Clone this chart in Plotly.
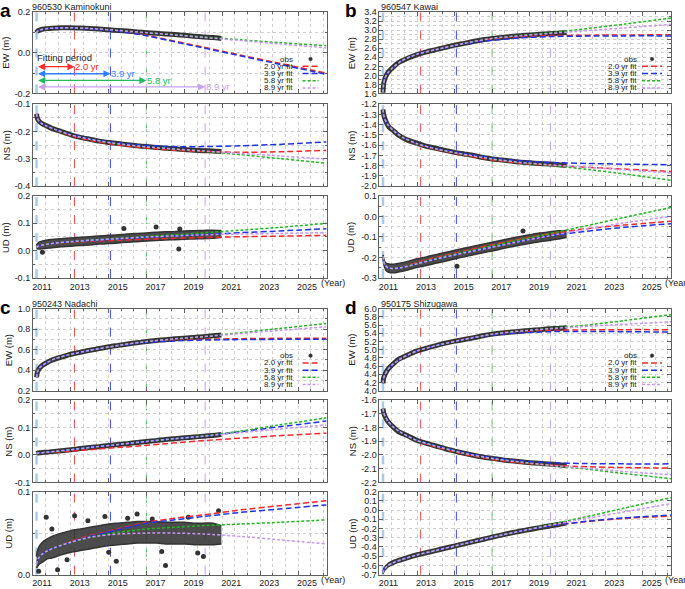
import plotly.graph_objects as go

W, H = 685, 589

# ---------------- data ----------------
quake_t = 2011.19
fit_ends = [2013.19, 2015.09, 2016.99, 2020.09]
fit_labels = ["2.0 yr fit", "3.9 yr fit", "5.8 yr fit", "8.9 yr fit"]
period_labels = ["2.0 yr", "3.9 yr", "5.8 yr", "8.9 yr"]
year_ticks = [2011, 2013, 2015, 2017, 2019, 2021, 2023, 2025]
stations = ["960530 Kaminokuni", "960547 Kawai", "950243 Nadachi", "950175 Shizugawa"]
letters = ["a", "b", "c", "d"]
components = ["EW", "NS", "UD"]

obs_t = [2011.19, 2011.22, 2011.27, 2011.35, 2011.5, 2011.75, 2012.0, 2012.5, 2013.0, 2013.5,
         2014.0, 2014.5, 2015.0, 2015.5, 2016.0, 2016.5, 2017.0, 2017.5, 2018.0, 2018.5,
         2019.0, 2019.5, 2020.0, 2020.5, 2020.95]
fit_t = [2011.19, 2011.22, 2011.3, 2011.45, 2011.7, 2012.2, 2013.0, 2014.0, 2015.5, 2017.0,
         2018.5, 2020.0, 2022.0, 2024.0, 2026.5]

# ---- a: 960530 Kaminokuni ----
a_ew_obs = [0.100, 0.105, 0.109, 0.112, 0.116, 0.119, 0.121, 0.123, 0.123, 0.122, 0.120, 0.117, 0.113,
            0.110, 0.107, 0.103, 0.099, 0.096, 0.093, 0.090, 0.086, 0.082, 0.078, 0.075, 0.071]
a_ew_fit20 = [0.098, 0.104, 0.110, 0.115, 0.119, 0.122, 0.123, 0.119, 0.107, 0.086, 0.057, 0.028, -0.012, -0.051, -0.100]
a_ew_fit39 = [0.098, 0.104, 0.110, 0.115, 0.119, 0.122, 0.122, 0.118, 0.106, 0.084, 0.054, 0.024, -0.016, -0.056, -0.106]
a_ew_fit58 = [0.098, 0.104, 0.110, 0.115, 0.119, 0.122, 0.123, 0.120, 0.110, 0.099, 0.089, 0.078, 0.064, 0.050, 0.035]
a_ew_fit89 = [0.098, 0.104, 0.110, 0.115, 0.119, 0.122, 0.123, 0.120, 0.110, 0.099, 0.088, 0.076, 0.060, 0.044, 0.024]

a_ns_obs = [-0.135, -0.148, -0.157, -0.164, -0.172, -0.180, -0.188, -0.200, -0.212, -0.221, -0.228, -0.235, -0.240,
            -0.244, -0.248, -0.252, -0.255, -0.258, -0.261, -0.263, -0.266, -0.268, -0.270, -0.271, -0.273]
a_ns_fit20 = [-0.135, -0.148, -0.160, -0.170, -0.179, -0.194, -0.215, -0.232, -0.249, -0.260, -0.268, -0.273, -0.276, -0.274, -0.269]
a_ns_fit39 = [-0.135, -0.148, -0.160, -0.170, -0.179, -0.193, -0.211, -0.227, -0.242, -0.251, -0.255, -0.255, -0.252, -0.247, -0.238]
a_ns_fit58 = [-0.135, -0.148, -0.160, -0.170, -0.179, -0.193, -0.212, -0.228, -0.245, -0.256, -0.264, -0.272, -0.285, -0.299, -0.316]
a_ns_fit89 = [-0.135, -0.148, -0.160, -0.170, -0.179, -0.193, -0.212, -0.228, -0.245, -0.256, -0.264, -0.271, -0.280, -0.289, -0.301]

a_ud_obs = [0.012, 0.015, 0.017, 0.019, 0.021, 0.024, 0.026, 0.029, 0.031, 0.034, 0.036, 0.039, 0.041,
            0.043, 0.046, 0.048, 0.050, 0.052, 0.054, 0.055, 0.057, 0.058, 0.059, 0.060, 0.061]
a_ud_spread = [0.006, 0.009, 0.011, 0.013, 0.014, 0.015, 0.015, 0.015, 0.015, 0.015, 0.015, 0.015, 0.015,
               0.015, 0.015, 0.015, 0.015, 0.015, 0.015, 0.015, 0.015, 0.015, 0.015, 0.015, 0.013]
a_ud_out_t = [2011.5, 2015.8, 2017.5, 2018.7, 2018.75]
a_ud_out_v = [-0.006, 0.081, 0.087, 0.006, 0.079]
a_ud_fit20 = [0.012, 0.014, 0.017, 0.020, 0.023, 0.027, 0.031, 0.034, 0.038, 0.042, 0.045, 0.048, 0.051, 0.053, 0.056]
a_ud_fit39 = [0.012, 0.014, 0.017, 0.020, 0.023, 0.028, 0.033, 0.037, 0.043, 0.049, 0.054, 0.059, 0.066, 0.072, 0.080]
a_ud_fit58 = [0.012, 0.014, 0.017, 0.020, 0.023, 0.028, 0.033, 0.038, 0.045, 0.052, 0.058, 0.065, 0.075, 0.085, 0.100]
a_ud_fit89 = [0.012, 0.014, 0.017, 0.020, 0.023, 0.028, 0.033, 0.038, 0.044, 0.050, 0.054, 0.058, 0.061, 0.063, 0.066]

# ---- b: 960547 Kawai ----
b_ew_obs = [1.62, 1.80, 1.90, 1.99, 2.09, 2.19, 2.28, 2.38, 2.46, 2.52, 2.57, 2.62, 2.67,
            2.71, 2.75, 2.79, 2.82, 2.84, 2.86, 2.88, 2.895, 2.91, 2.92, 2.935, 2.95]
b_ew_fit20 = [1.62, 1.80, 1.95, 2.06, 2.17, 2.33, 2.47, 2.58, 2.71, 2.80, 2.85, 2.88, 2.89, 2.895, 2.90]
b_ew_fit39 = [1.62, 1.80, 1.95, 2.06, 2.17, 2.33, 2.47, 2.57, 2.70, 2.78, 2.83, 2.86, 2.87, 2.875, 2.875]
b_ew_fit58 = [1.62, 1.80, 1.95, 2.06, 2.17, 2.33, 2.47, 2.57, 2.71, 2.82, 2.885, 2.94, 3.035, 3.135, 3.27]
b_ew_fit89 = [1.62, 1.80, 1.95, 2.06, 2.17, 2.33, 2.47, 2.57, 2.71, 2.82, 2.88, 2.925, 2.99, 3.05, 3.13]

b_ns_obs = [-1.25, -1.30, -1.33, -1.37, -1.42, -1.46, -1.50, -1.55, -1.58, -1.61, -1.63, -1.65, -1.67,
            -1.685, -1.70, -1.72, -1.735, -1.745, -1.755, -1.765, -1.772, -1.778, -1.784, -1.79, -1.797]
b_ns_fit20 = [-1.25, -1.30, -1.35, -1.40, -1.45, -1.52, -1.59, -1.64, -1.695, -1.745, -1.775, -1.795, -1.815, -1.833, -1.856]
b_ns_fit39 = [-1.25, -1.30, -1.35, -1.40, -1.45, -1.52, -1.585, -1.63, -1.68, -1.725, -1.752, -1.768, -1.778, -1.785, -1.79]
b_ns_fit58 = [-1.25, -1.30, -1.35, -1.40, -1.45, -1.52, -1.585, -1.635, -1.69, -1.735, -1.77, -1.795, -1.835, -1.88, -1.943]
b_ns_fit89 = [-1.25, -1.30, -1.35, -1.40, -1.45, -1.52, -1.585, -1.635, -1.69, -1.735, -1.768, -1.79, -1.815, -1.84, -1.87]

b_ud_obs = [-0.195, -0.215, -0.232, -0.245, -0.252, -0.254, -0.250, -0.240, -0.227, -0.218, -0.207, -0.197, -0.186,
            -0.176, -0.166, -0.156, -0.147, -0.137, -0.127, -0.118, -0.110, -0.102, -0.096, -0.090, -0.085]
b_ud_spread = [0.008, 0.012, 0.015, 0.018, 0.020, 0.021, 0.021, 0.021, 0.021, 0.021, 0.021, 0.021, 0.021,
               0.021, 0.021, 0.021, 0.021, 0.021, 0.021, 0.021, 0.021, 0.021, 0.021, 0.020, 0.017]
b_ud_out_t = [2015.12, 2018.63]
b_ud_out_v = [-0.243, -0.071]
b_ud_fit20 = [-0.195, -0.215, -0.238, -0.250, -0.254, -0.246, -0.224, -0.200, -0.168, -0.138, -0.110, -0.085, -0.060, -0.042, -0.023]
b_ud_fit39 = [-0.195, -0.215, -0.238, -0.250, -0.254, -0.248, -0.230, -0.207, -0.177, -0.148, -0.120, -0.095, -0.072, -0.053, -0.035]
b_ud_fit58 = [-0.195, -0.215, -0.238, -0.250, -0.254, -0.248, -0.229, -0.205, -0.173, -0.143, -0.113, -0.085, -0.045, -0.005, 0.044]
b_ud_fit89 = [-0.195, -0.215, -0.238, -0.250, -0.254, -0.249, -0.231, -0.208, -0.178, -0.150, -0.121, -0.095, -0.062, -0.031, 0.000]

# ---- c: 950243 Nadachi ----
c_ew_obs = [0.33, 0.37, 0.395, 0.42, 0.448, 0.475, 0.498, 0.528, 0.556, 0.575, 0.594, 0.611, 0.628,
            0.642, 0.656, 0.668, 0.68, 0.69, 0.698, 0.706, 0.713, 0.72, 0.727, 0.736, 0.744]
c_ew_fit20 = [0.33, 0.37, 0.41, 0.44, 0.47, 0.515, 0.555, 0.594, 0.640, 0.676, 0.692, 0.702, 0.708, 0.711, 0.712]
c_ew_fit39 = [0.33, 0.37, 0.41, 0.44, 0.47, 0.515, 0.555, 0.594, 0.638, 0.672, 0.686, 0.694, 0.699, 0.701, 0.702]
c_ew_fit58 = [0.33, 0.37, 0.41, 0.44, 0.47, 0.515, 0.555, 0.594, 0.642, 0.680, 0.706, 0.728, 0.767, 0.807, 0.856]
c_ew_fit89 = [0.33, 0.37, 0.41, 0.44, 0.47, 0.515, 0.555, 0.594, 0.642, 0.680, 0.706, 0.727, 0.758, 0.788, 0.824]

c_ns_obs = [0.005, 0.006, 0.007, 0.008, 0.009, 0.010, 0.012, 0.015, 0.019, 0.023, 0.027, 0.030, 0.034,
            0.038, 0.041, 0.045, 0.049, 0.052, 0.056, 0.059, 0.062, 0.065, 0.068, 0.071, 0.074]
c_ns_fit20 = [0.005, 0.006, 0.007, 0.008, 0.009, 0.011, 0.014, 0.019, 0.027, 0.035, 0.044, 0.052, 0.061, 0.070, 0.079]
c_ns_fit39 = [0.005, 0.006, 0.007, 0.008, 0.010, 0.013, 0.019, 0.027, 0.038, 0.049, 0.059, 0.068, 0.085, 0.102, 0.123]
c_ns_fit58 = [0.005, 0.006, 0.007, 0.008, 0.010, 0.013, 0.019, 0.027, 0.038, 0.049, 0.059, 0.069, 0.087, 0.109, 0.135]
c_ns_fit89 = [0.005, 0.006, 0.007, 0.008, 0.010, 0.013, 0.019, 0.027, 0.038, 0.049, 0.059, 0.068, 0.081, 0.094, 0.109]

c_ud_obs = [0.015, 0.018, 0.021, 0.024, 0.027, 0.031, 0.033, 0.037, 0.040, 0.042, 0.044, 0.046, 0.048,
            0.049, 0.050, 0.051, 0.051, 0.051, 0.050, 0.050, 0.050, 0.049, 0.049, 0.049, 0.048]
c_ud_spread = [0.007, 0.009, 0.010, 0.011, 0.012, 0.012, 0.013, 0.013, 0.013, 0.013, 0.013, 0.013, 0.013,
               0.013, 0.013, 0.013, 0.013, 0.013, 0.013, 0.013, 0.013, 0.013, 0.013, 0.013, 0.011]
c_ud_out_t = [2011.3, 2011.7, 2012.3, 2013.2, 2014.8, 2015.4, 2016.5, 2018.0, 2020.0, 2020.8,
              2012.0, 2013.9, 2016.0, 2017.3, 2019.2, 2012.8, 2015.0, 2017.8, 2019.7]
c_ud_out_v = [0.004, 0.069, 0.006, 0.071, 0.070, 0.016, 0.073, 0.011, 0.022, 0.077,
              0.055, 0.065, 0.068, 0.067, 0.069, 0.018, 0.027, 0.028, 0.026]
c_ud_fit20 = [0.013, 0.016, 0.020, 0.024, 0.028, 0.033, 0.040, 0.047, 0.055, 0.063, 0.068, 0.072, 0.078, 0.083, 0.089]
c_ud_fit39 = [0.013, 0.016, 0.020, 0.024, 0.028, 0.033, 0.039, 0.046, 0.054, 0.062, 0.066, 0.070, 0.075, 0.079, 0.084]
c_ud_fit58 = [0.013, 0.016, 0.020, 0.024, 0.028, 0.033, 0.039, 0.045, 0.051, 0.055, 0.057, 0.059, 0.061, 0.063, 0.066]
c_ud_fit89 = [0.013, 0.016, 0.020, 0.024, 0.028, 0.033, 0.039, 0.045, 0.049, 0.050, 0.050, 0.049, 0.046, 0.042, 0.037]

# ---- d: 950175 Shizugawa ----
d_ew_obs = [4.18, 4.30, 4.37, 4.45, 4.55, 4.66, 4.76, 4.87, 4.97, 5.04, 5.10, 5.16, 5.21,
            5.25, 5.29, 5.34, 5.38, 5.41, 5.43, 5.45, 5.47, 5.49, 5.51, 5.52, 5.535]
d_ew_fit20 = [4.18, 4.30, 4.40, 4.52, 4.64, 4.80, 4.97, 5.10, 5.26, 5.37, 5.43, 5.47, 5.485, 5.49, 5.49]
d_ew_fit39 = [4.18, 4.30, 4.40, 4.52, 4.64, 4.80, 4.97, 5.10, 5.25, 5.36, 5.41, 5.44, 5.445, 5.44, 5.43]
d_ew_fit58 = [4.18, 4.30, 4.40, 4.52, 4.64, 4.80, 4.97, 5.10, 5.25, 5.38, 5.455, 5.515, 5.60, 5.71, 5.856]
d_ew_fit89 = [4.18, 4.30, 4.40, 4.52, 4.64, 4.80, 4.97, 5.10, 5.25, 5.38, 5.455, 5.51, 5.57, 5.62, 5.68]

d_ns_obs = [-1.663, -1.69, -1.71, -1.735, -1.765, -1.80, -1.83, -1.86, -1.895, -1.915, -1.935, -1.955, -1.972,
            -1.988, -2.002, -2.015, -2.025, -2.035, -2.043, -2.05, -2.056, -2.061, -2.066, -2.071, -2.077]
d_ns_fit20 = [-1.663, -1.69, -1.72, -1.755, -1.793, -1.842, -1.898, -1.942, -1.995, -2.033, -2.058, -2.073, -2.086, -2.092, -2.096]
d_ns_fit39 = [-1.663, -1.69, -1.72, -1.755, -1.793, -1.842, -1.893, -1.933, -1.983, -2.020, -2.043, -2.056, -2.063, -2.065, -2.065]
d_ns_fit58 = [-1.663, -1.69, -1.72, -1.755, -1.793, -1.842, -1.895, -1.936, -1.988, -2.026, -2.052, -2.075, -2.103, -2.135, -2.173]
d_ns_fit89 = [-1.663, -1.69, -1.72, -1.755, -1.793, -1.842, -1.895, -1.936, -1.988, -2.026, -2.052, -2.074, -2.097, -2.12, -2.144]

d_ud_obs = [-0.683, -0.66, -0.64, -0.62, -0.592, -0.567, -0.547, -0.515, -0.486, -0.462, -0.438, -0.413, -0.389,
            -0.365, -0.341, -0.317, -0.293, -0.27, -0.248, -0.228, -0.21, -0.192, -0.174, -0.158, -0.142]
d_ud_spread = [0.010, 0.014, 0.016, 0.018, 0.019, 0.020, 0.020, 0.020, 0.020, 0.020, 0.020, 0.020, 0.020,
               0.020, 0.020, 0.020, 0.020, 0.020, 0.020, 0.020, 0.020, 0.020, 0.020, 0.020, 0.018]
d_ud_fit20 = [-0.683, -0.66, -0.632, -0.602, -0.572, -0.535, -0.486, -0.438, -0.365, -0.293, -0.228, -0.172, -0.125, -0.090, -0.065]
d_ud_fit39 = [-0.683, -0.66, -0.632, -0.602, -0.572, -0.535, -0.486, -0.438, -0.365, -0.293, -0.228, -0.175, -0.122, -0.085, -0.054]
d_ud_fit58 = [-0.683, -0.66, -0.632, -0.602, -0.572, -0.535, -0.486, -0.438, -0.365, -0.293, -0.228, -0.160, -0.072, 0.020, 0.136]
d_ud_fit89 = [-0.683, -0.66, -0.632, -0.602, -0.572, -0.535, -0.486, -0.438, -0.365, -0.293, -0.228, -0.168, -0.090, -0.020, 0.070]

# ---------------- styles / layout ----------------
OBS_C = "#333333"
BAND_C = "rgba(45,45,45,0.85)"
FIT_C = ["#f02a2a", "#1f33e0", "#1fb81f", "#c596f2"]
FIT_DASH = ["6px,3px", "6px,3px", "3px,2px", "3px,2px"]
VL_C = ["#e84a4a", "#3a4ee6", "#4cc04c", "#c9a0f0"]
ARROW_C = ["#ff2a2a", "#2f80ff", "#22bb60", "#c8a0f0"]
QUAKE_C = "#a9cbe9"
GRID_C = "#cfcfcf"
AX_C = "#606060"
TXT_C = "#222222"
FONT = "Liberation Sans, Arial, sans-serif"

XDOM = {"L": (32, 326), "R": (379, 671)}
YDOM = {"top": [(7.3, 90.0), (101.0, 184.3), (194.3, 277.7)],
        "bot": [(309.0, 392.3), (401.7, 485.7), (495.0, 579.5)]}
panel_side = ["L", "R", "L", "R"]
panel_row = ["top", "top", "bot", "bot"]

subplots = [
    dict(panel=0, comp=0, obs=a_ew_obs, fits=[a_ew_fit20, a_ew_fit39, a_ew_fit58, a_ew_fit89], rng=(-0.2, 0.2), dtick=0.2, minor=0.1),
    dict(panel=0, comp=1, obs=a_ns_obs, fits=[a_ns_fit20, a_ns_fit39, a_ns_fit58, a_ns_fit89], rng=(-0.4, -0.1), dtick=0.1, minor=0.05),
    dict(panel=0, comp=2, obs=a_ud_obs, spread=a_ud_spread, out_t=a_ud_out_t, out_v=a_ud_out_v,
         fits=[a_ud_fit20, a_ud_fit39, a_ud_fit58, a_ud_fit89], rng=(-0.1, 0.2), dtick=0.1, minor=0.05),
    dict(panel=1, comp=0, obs=b_ew_obs, fits=[b_ew_fit20, b_ew_fit39, b_ew_fit58, b_ew_fit89], rng=(1.6, 3.4), dtick=0.2, minor=0.1),
    dict(panel=1, comp=1, obs=b_ns_obs, fits=[b_ns_fit20, b_ns_fit39, b_ns_fit58, b_ns_fit89], rng=(-2.0, -1.2), dtick=0.1, minor=None),
    dict(panel=1, comp=2, obs=b_ud_obs, spread=b_ud_spread, out_t=b_ud_out_t, out_v=b_ud_out_v,
         fits=[b_ud_fit20, b_ud_fit39, b_ud_fit58, b_ud_fit89], rng=(-0.3, 0.1), dtick=0.1, minor=0.05),
    dict(panel=2, comp=0, obs=c_ew_obs, fits=[c_ew_fit20, c_ew_fit39, c_ew_fit58, c_ew_fit89], rng=(0.2, 1.0), dtick=0.2, minor=0.1),
    dict(panel=2, comp=1, obs=c_ns_obs, fits=[c_ns_fit20, c_ns_fit39, c_ns_fit58, c_ns_fit89], rng=(-0.1, 0.2), dtick=0.1, minor=0.05),
    dict(panel=2, comp=2, obs=c_ud_obs, spread=c_ud_spread, out_t=c_ud_out_t, out_v=c_ud_out_v,
         fits=[c_ud_fit20, c_ud_fit39, c_ud_fit58, c_ud_fit89], rng=(0.0, 0.1), dtick=0.1, minor=0.05),
    dict(panel=3, comp=0, obs=d_ew_obs, fits=[d_ew_fit20, d_ew_fit39, d_ew_fit58, d_ew_fit89], rng=(4.0, 6.0), dtick=0.2, minor=None),
    dict(panel=3, comp=1, obs=d_ns_obs, fits=[d_ns_fit20, d_ns_fit39, d_ns_fit58, d_ns_fit89], rng=(-2.2, -1.6), dtick=0.1, minor=None),
    dict(panel=3, comp=2, obs=d_ud_obs, spread=d_ud_spread, fits=[d_ud_fit20, d_ud_fit39, d_ud_fit58, d_ud_fit89],
         rng=(-0.7, 0.2), dtick=0.1, minor=None),
]


def px_x(x):
    return x / W


def px_y(y):
    return 1 - y / H


fig = go.Figure()
shapes, annotations = [], []
layout_axes = {}

for k, sp in enumerate(subplots, start=1):
    p, c = sp["panel"], sp["comp"]
    x0, x1 = XDOM[panel_side[p]]
    ytop, ybot = YDOM[panel_row[p]][c]
    xa = "x" if k == 1 else f"x{k}"
    ya = "y" if k == 1 else f"y{k}"
    common = dict(xaxis=xa, yaxis=ya, showlegend=False, hoverinfo="skip")

    # observations
    if "spread" in sp:
        hi = [o + s for o, s in zip(sp["obs"], sp["spread"])]
        lo = [o - s for o, s in zip(sp["obs"], sp["spread"])]
        fig.add_trace(go.Scatter(x=obs_t, y=hi, mode="lines",
                                 line=dict(color=OBS_C, width=1.5, shape="spline", smoothing=0.6), **common))
        fig.add_trace(go.Scatter(x=obs_t, y=lo, mode="lines", fill="tonexty", fillcolor=BAND_C,
                                 line=dict(color=OBS_C, width=1.5, shape="spline", smoothing=0.6), **common))
        if "out_t" in sp:
            fig.add_trace(go.Scatter(x=sp["out_t"], y=sp["out_v"], mode="markers",
                                     marker=dict(color=OBS_C, size=5), **common))
    else:
        fig.add_trace(go.Scatter(x=obs_t, y=sp["obs"], mode="lines",
                                 line=dict(color=OBS_C, width=5, shape="spline", smoothing=0.6), **common))

    # fits
    for i, f in enumerate(sp["fits"]):
        fig.add_trace(go.Scatter(x=fit_t, y=f, mode="lines",
                                 line=dict(color=FIT_C[i], width=1.5, dash=FIT_DASH[i],
                                           shape="spline", smoothing=0.6), **common))

    # vertical reference lines
    vlines = [(quake_t, QUAKE_C, 2.5)] + [(t, col, 1.0) for t, col in zip(fit_ends, VL_C)]
    for t, col, w in vlines:
        shapes.append(dict(type="line", xref=xa, yref="paper", x0=t, x1=t,
                           y0=px_y(ybot), y1=px_y(ytop),
                           line=dict(color=col, width=w, dash="dash"), layer="below"))

    # axes
    lo_r, hi_r = sp["rng"]
    n = int(round((hi_r - lo_r) / sp["dtick"]))
    tv = [round(lo_r + j * sp["dtick"], 4) for j in range(n + 1)]
    tt = [f"{(v if abs(v) > 1e-9 else 0.0):.1f}" for v in tv]
    yax = dict(domain=[px_y(ybot), px_y(ytop)], range=[lo_r, hi_r], anchor=xa,
               tickmode="array", tickvals=tv, ticktext=tt,
               ticks="inside", ticklen=4, tickcolor=AX_C, showline=True, linecolor=AX_C,
               linewidth=1, mirror="allticks", showgrid=True, gridcolor=GRID_C, griddash="dot",
               zeroline=False, tickfont=dict(size=9, color=TXT_C, family=FONT))
    if sp["minor"]:
        yax["minor"] = dict(dtick=sp["minor"], tick0=lo_r, showgrid=True, gridcolor=GRID_C,
                            griddash="dot", ticks="inside", ticklen=2, tickcolor=AX_C)
    xax = dict(domain=[px_x(x0), px_x(x1)], range=[2011.0, 2026.5], anchor=ya,
               tickmode="array", tickvals=year_ticks, ticktext=[str(y) for y in year_ticks],
               showticklabels=(c == 2), ticklabelshift=9,
               ticks="inside", ticklen=4, tickcolor=AX_C, showline=True, linecolor=AX_C,
               linewidth=1, mirror="allticks", showgrid=True, gridcolor=GRID_C, griddash="dot",
               zeroline=False, tickfont=dict(size=9, color=TXT_C, family=FONT),
               minor=dict(dtick=2 / 3, tick0=2011, showgrid=True, gridcolor=GRID_C, griddash="dot",
                          ticks="inside", ticklen=2, tickcolor=AX_C))
    layout_axes["xaxis" if k == 1 else f"xaxis{k}"] = xax
    layout_axes["yaxis" if k == 1 else f"yaxis{k}"] = yax

    # y-axis title
    tx = {0: 5, 1: 351, 2: 7.5, 3: 351.5}[p]
    annotations.append(dict(x=px_x(tx), y=px_y((ytop + ybot) / 2), xref="paper", yref="paper",
                            text=f"{components[c]} (m)", textangle=-90, showarrow=False,
                            xanchor="center", yanchor="middle",
                            font=dict(size=9.5, color=TXT_C, family=FONT)))

    if c == 2:
        annotations.append(dict(x=px_x(x1 - 8), y=px_y(ybot + 5.5), xref="paper", yref="paper",
                                text="(Year)", xanchor="left", yanchor="middle", showarrow=False,
                                font=dict(size=9, color=TXT_C, family=FONT)))

    if c == 0:
        # legend (drawn manually: text left, sample right)
        rows = [ytop + d for d in (47.7, 55.1, 62.5, 69.8, 77.1)]
        right = panel_side[p] == "R"
        txt_r = x1 - 32
        lx0, lx1 = (x1 - 29, x1 - 9) if right else (x1 - 24, x1 - 8)
        texts = ["obs"] + fit_labels
        for j, (ry, t) in enumerate(zip(rows, texts)):
            annotations.append(dict(x=px_x(txt_r), y=px_y(ry), xref="paper", yref="paper", text=t,
                                    xanchor="right", yanchor="middle", showarrow=False,
                                    font=dict(size=8, color=TXT_C, family=FONT)))
            if j == 0:
                cx = (lx0 + lx1) / 2
                shapes.append(dict(type="circle", xref="paper", yref="paper",
                                   x0=px_x(cx - 1.8), x1=px_x(cx + 1.8), y0=px_y(ry + 1.8), y1=px_y(ry - 1.8),
                                   fillcolor=OBS_C, line=dict(color=OBS_C, width=0.5)))
            else:
                shapes.append(dict(type="line", xref="paper", yref="paper",
                                   x0=px_x(lx0), x1=px_x(lx1), y0=px_y(ry), y1=px_y(ry),
                                   line=dict(color=FIT_C[j - 1], width=1.5, dash=FIT_DASH[j - 1])))
        # panel letter and station name
        letter_x = -3 if not right else 343
        annotations.append(dict(x=px_x(letter_x), y=px_y(ytop - 14), xref="paper", yref="paper",
                                text=f"<b>{letters[p]}</b>", xanchor="left", yanchor="top", showarrow=False,
                                font=dict(size=19, color="#000000", family=FONT)))
        annotations.append(dict(x=px_x(x0 + (-2.5 if not right else -0.5)), y=px_y(ytop - 5.3), xref="paper",
                                yref="paper", text=stations[p], xanchor="left", yanchor="middle",
                                showarrow=False, font=dict(size=9, color=TXT_C, family=FONT)))

# "Fitting period" arrows in panel a (EW), positioned within the first subplot's domain
a_top, a_bot = YDOM["top"][0]


def dom_y(ypx):
    return (a_bot - ypx) / (a_bot - a_top)


annotations.append(dict(x=quake_t, y=dom_y(53.3), xref="x", yref="y domain", text="Fitting period",
                        xanchor="left", yanchor="middle", xshift=-2, showarrow=False,
                        font=dict(size=9.5, color=TXT_C, family=FONT)))
for i, ry in enumerate((62.7, 70.0, 76.7, 83.3)):
    annotations.append(dict(x=fit_ends[i], y=dom_y(ry), xref="x", yref="y domain",
                            ax=quake_t, ay=dom_y(ry), axref="x", ayref="y domain", text="", showarrow=True,
                            arrowhead=2, arrowside="end+start", arrowsize=1, arrowwidth=1.4,
                            arrowcolor=ARROW_C[i], standoff=0, startstandoff=0))
    annotations.append(dict(x=fit_ends[i], y=dom_y(ry), xref="x", yref="y domain", text=period_labels[i],
                            xanchor="left", yanchor="middle", xshift=-1, showarrow=False,
                            font=dict(size=9.5, color=ARROW_C[i], family=FONT)))

fig.update_layout(width=W, height=H, margin=dict(l=0, r=0, t=0, b=0),
                  paper_bgcolor="white", plot_bgcolor="white",
                  font=dict(family=FONT, size=9, color=TXT_C),
                  shapes=shapes, annotations=annotations, showlegend=False, **layout_axes)

fig.write_html("out.html", config={"displayModeBar": False},
               post_script="document.body.style.margin='0';document.body.style.overflow='hidden';")
